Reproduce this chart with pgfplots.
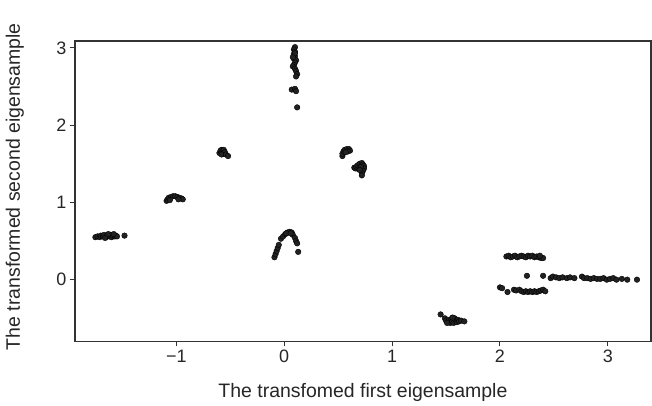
\documentclass[border=0pt]{standalone}
\usepackage{fontspec}
\setmainfont{Liberation Sans}
\usepackage{pgfplots}
\pgfplotsset{compat=1.18}
\definecolor{dotc}{HTML}{222222}
\definecolor{axc}{HTML}{333333}
\begin{document}
\begin{tikzpicture}
\begin{axis}[
  scale only axis, width=577pt, height=301pt,
  at={(0,0)}, anchor=south west,
  xmin=-1.94, xmax=3.40, ymin=-0.80, ymax=3.09,
  xtick={-1,0,1,2,3}, xticklabels={−1,0,1,2,3},
  ytick={0,1,2,3}, yticklabels={0,1,2,3},
  xtick pos=lower, ytick pos=left,
  tick align=outside, major tick length=5pt,
  tick style={axc, line width=1pt},
  axis line style={axc, line width=1.3pt},
  tick label style={font=\fontsize{18}{20}\selectfont, text=black!85},
  label style={font=\fontsize{19.5}{22}\selectfont, text=black!85},
  xlabel={The transfomed first eigensample},
  ylabel={The transformed second eigensample},
  xlabel style={at={([yshift=-56pt]axis description cs:0.5,0)}, anchor=base},
  ylabel style={at={([xshift=-55pt]axis description cs:0,0.515)}, anchor=base},
]
\addplot[only marks, mark=*, mark size=2.8pt, mark options={fill=dotc, draw=none}] coordinates {
(-1.75,0.55)(-1.73,0.56)(-1.71,0.55)(-1.70,0.57)(-1.68,0.56)(-1.67,0.58)(-1.65,0.55)(-1.64,0.57)(-1.62,0.56)(-1.61,0.58)(-1.60,0.55)(-1.59,0.57)(-1.57,0.56)(-1.56,0.57)(-1.55,0.56)(-1.66,0.54)(-1.63,0.59)(-1.58,0.59)(-1.48,0.57)
(-1.09,1.02)(-1.08,1.04)(-1.07,1.06)(-1.05,1.07)(-1.03,1.08)(-1.01,1.08)(-0.99,1.07)(-0.97,1.06)(-0.95,1.05)(-0.94,1.04)(-1.06,1.03)(-0.98,1.04)
(-0.60,1.64)(-0.59,1.67)(-0.58,1.68)(-0.57,1.66)(-0.56,1.68)(-0.57,1.63)(-0.55,1.65)(-0.58,1.62)(-0.54,1.62)(-0.52,1.60)
(0.10,3.01)(0.09,2.98)(0.10,2.95)(0.09,2.92)(0.10,2.89)(0.09,2.86)(0.11,2.84)(0.10,2.81)(0.09,2.78)(0.08,2.76)(0.10,2.73)(0.11,2.70)(0.12,2.66)(0.11,2.63)(0.10,2.93)(0.08,2.88)(0.07,2.46)(0.10,2.47)(0.11,2.44)(0.12,2.23)
(-0.09,0.29)(-0.08,0.33)(-0.07,0.37)(-0.06,0.41)(-0.05,0.45)(-0.03,0.53)(-0.01,0.56)(0.01,0.59)(0.03,0.61)(0.05,0.62)(0.07,0.61)(0.08,0.58)(0.10,0.54)(0.11,0.50)(0.12,0.47)(0.13,0.36)(0.02,0.60)(0.06,0.60)
(0.54,1.60)(0.54,1.63)(0.55,1.66)(0.56,1.68)(0.58,1.69)(0.60,1.69)(0.61,1.67)(0.59,1.66)(0.57,1.65)
(0.65,1.45)(0.66,1.44)(0.67,1.46)(0.68,1.48)(0.69,1.43)(0.70,1.50)(0.72,1.51)(0.73,1.49)(0.74,1.47)(0.74,1.44)(0.73,1.41)(0.72,1.38)(0.72,1.35)(0.71,1.46)(0.70,1.42)
(1.45,-0.45)(1.49,-0.50)(1.50,-0.53)(1.52,-0.55)(1.53,-0.52)(1.54,-0.56)(1.55,-0.51)(1.56,-0.54)(1.57,-0.56)(1.58,-0.50)(1.59,-0.53)(1.60,-0.55)(1.61,-0.52)(1.62,-0.54)(1.64,-0.53)(1.67,-0.54)(1.56,-0.49)(1.51,-0.56)
(2.06,0.30)(2.08,0.31)(2.10,0.29)(2.12,0.30)(2.14,0.31)(2.16,0.29)(2.18,0.30)(2.20,0.31)(2.22,0.30)(2.24,0.29)(2.26,0.31)(2.28,0.30)(2.30,0.31)(2.32,0.29)(2.34,0.30)(2.36,0.29)(2.38,0.28)(2.40,0.28)(2.37,0.31)
(2.25,0.05)(2.40,0.05)(2.47,0.02)(2.49,0.04)(2.52,0.03)(2.55,0.02)(2.58,0.03)(2.62,0.02)(2.65,0.03)(2.69,0.02)(2.76,0.04)(2.78,0.02)(2.81,0.02)(2.84,0.01)(2.87,0.02)(2.90,0.01)(2.93,0.01)(2.96,0.02)(2.99,0.00)(3.02,0.01)(3.05,0.02)(3.08,0.00)(3.13,0.01)(3.18,0.00)(3.27,0.00)
(2.00,-0.10)(2.02,-0.11)(2.07,-0.16)(2.13,-0.13)(2.15,-0.14)(2.18,-0.13)(2.20,-0.15)(2.22,-0.16)(2.24,-0.15)(2.26,-0.16)(2.28,-0.15)(2.30,-0.16)(2.32,-0.15)(2.34,-0.16)(2.36,-0.15)(2.38,-0.14)(2.40,-0.13)(2.42,-0.15)
};
\end{axis}
\pgfresetboundingbox
\useasboundingbox (-75pt,-64pt) rectangle (578pt,342pt);
\end{tikzpicture}
\end{document}
